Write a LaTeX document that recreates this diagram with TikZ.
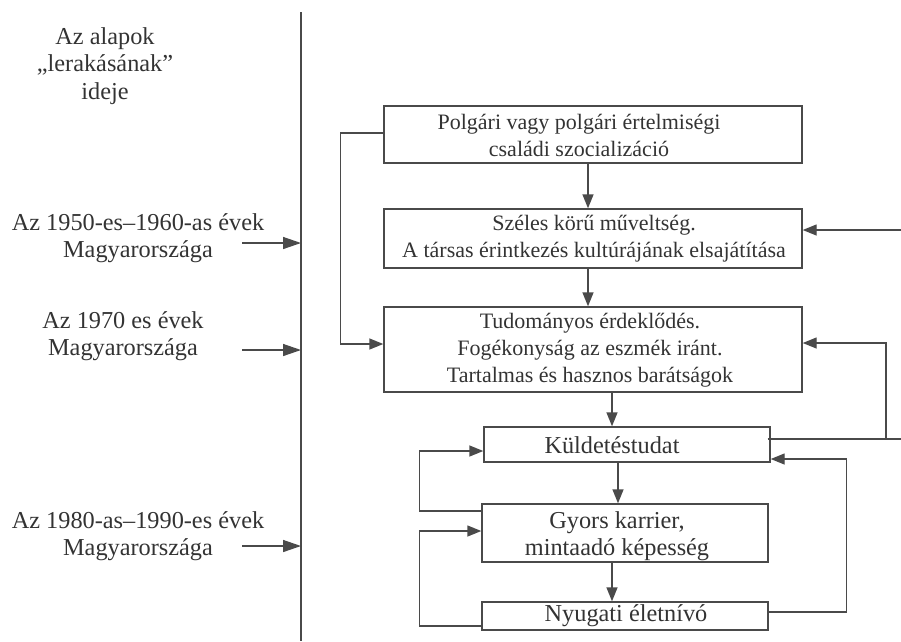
\documentclass[tikz,border=0pt]{standalone}
\usepackage{fontspec}
\setmainfont{Liberation Serif}
\usetikzlibrary{arrows.meta}
\definecolor{ln}{HTML}{4A4A4A}
\definecolor{tx}{HTML}{333333}
\begin{document}
\begin{tikzpicture}[x=1pt,y=-1pt,
  every node/.style={text=tx, font=\fontsize{24.3}{27.5}\selectfont, inner sep=0pt},
  boxn/.style={draw=ln, line width=1.4pt, rectangle},
  lbl/.style={align=center},
  small/.style={font=\fontsize{22}{27}\selectfont},
  conn/.style={draw=ln, line width=1.4pt},
  arr/.style={conn, -{Triangle[length=14pt,width=11pt]}},
  larr/.style={conn, -{Triangle[length=18pt,width=12pt]}}]
\useasboundingbox (0,0) rectangle (901,641);
% timeline
\coordinate (vt) at (301,12);
\coordinate (vb) at (301,641);
\draw[conn] (vt) -- (vb);
% left labels
\node[lbl] (h) at (105,66) {Az alapok\\„lerakásának”\\ideje};
\node[lbl] (l1) at (138,238) {Az 1950-es–1960-as évek\\Magyarországa};
\node[lbl] (l2) at (123,336) {Az 1970 es évek\\Magyarországa};
\node[lbl] (l3) at (138,536) {Az 1980-as–1990-es évek\\Magyarországa};
\coordinate (a1) at (242,243);
\coordinate (a2) at (242,350);
\coordinate (a3) at (242,546);
\draw[larr] (a1) -- (a1 -| vt);
\draw[larr] (a2) -- (a2 -| vt);
\draw[larr] (a3) -- (a3 -| vt);
% boxes
\node[boxn, minimum width=418pt, minimum height=57pt] (b1) at (593,134.5) {};
\node[boxn, minimum width=418pt, minimum height=59pt] (b2) at (593,238.5) {};
\node[boxn, minimum width=418pt, minimum height=85pt] (b3) at (593,349.5) {};
\node[boxn, minimum width=286pt, minimum height=35pt] (b4) at (627,444.5) {};
\node[boxn, minimum width=286pt, minimum height=58pt] (b5) at (625,533) {};
\node[boxn, minimum width=286pt, minimum height=28pt] (b6) at (625,616) {};
% box texts
\node[lbl, small] (t1) at (579,135) {Polgári vagy polgári értelmiségi\\családi szocializáció};
\node[lbl, small] (t2) at (594,238.5) {Széles körű műveltség.\\A társas érintkezés kultúrájának elsajátítása};
\node[lbl, small] (t3) at (590,350) {Tudományos érdeklődés.\\Fogékonyság az eszmék iránt.\\Tartalmas és hasznos barátságok};
\node[lbl] (t4) at (612,445) {Küldetéstudat};
\node[lbl] (t5) at (617,536) {Gyors karrier,\\mintaadó képesség};
\node[lbl] (t6) at (626,616) {Nyugati életnívó};
% down arrows
\draw[arr] ([xshift=-5pt]b1.south) -- ([xshift=-5pt]b2.north);
\draw[arr] ([xshift=-5pt]b2.south) -- ([xshift=-5pt]b3.north);
\draw[arr] ([xshift=19pt]b3.south) -- ([xshift=19pt]b3.south |- b4.north);
\draw[arr] ([xshift=-9pt]b4.south) -- ([xshift=-9pt]b4.south |- b5.north);
\draw[arr] ([xshift=-13pt]b5.south) -- ([xshift=-13pt]b5.south |- b6.north);
% left loop box1 -> box3
\draw[arr] ([yshift=1.5pt]b1.west) -- ++(-43,0) |- ([yshift=5.5pt]b3.west);
% right feedback
\coordinate (r2) at (901,230);
\coordinate (r4) at (901,439);
\coordinate (j4) at (886,439);
\draw[arr] (r2) -- (r2 -| b2.east);
\draw[conn] ([xshift=-3pt,yshift=5.5pt]b4.east) -- (r4);
\draw[arr] (j4) |- ([yshift=6.5pt]b3.east);
\draw[arr] ([yshift=4pt]b6.east) -- ++(78,0) |- ([yshift=-14.5pt]b4.east);
% left loops lower
\draw[arr] ([yshift=22pt]b5.west) -- ++(-62,0) |- ([yshift=-6.5pt]b4.west);
\draw[arr] ([yshift=-10pt]b6.west) -- ++(-62,0) |- ([yshift=2pt]b5.west);
\end{tikzpicture}
\end{document}
